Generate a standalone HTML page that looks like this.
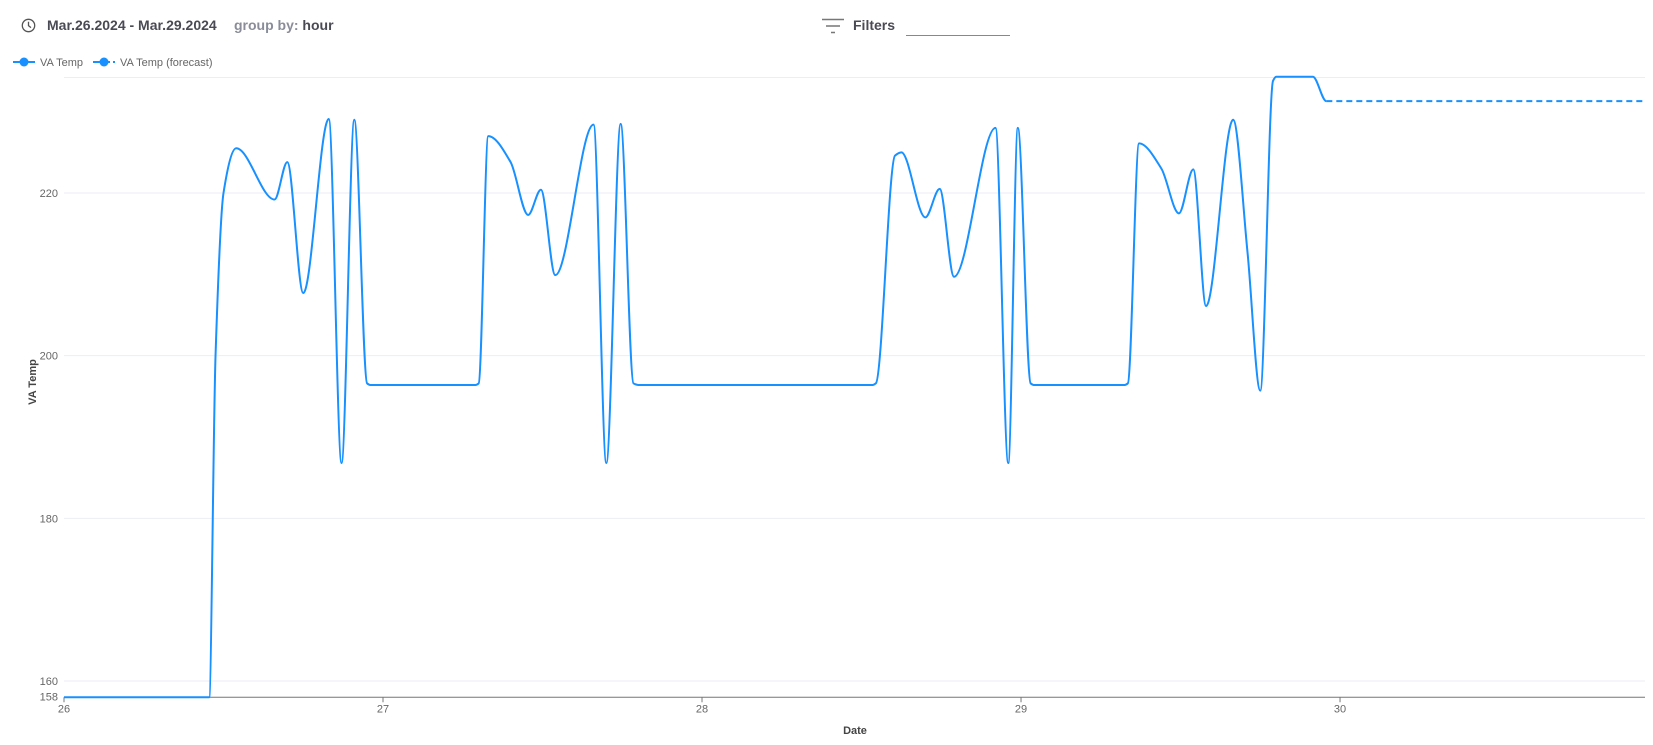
<!DOCTYPE html>
<html><head><meta charset="utf-8"><style>
body{margin:0;width:1653px;height:745px;background:#fff;font-family:"Liberation Sans",sans-serif;overflow:hidden;position:relative}
.hdr{position:absolute;top:17px;font-size:14px;font-weight:bold;color:#4a4a55}
</style></head><body>
<svg style="position:absolute;left:21px;top:18px" width="15" height="15" viewBox="0 0 15 15"><circle cx="7.5" cy="7.5" r="6.2" fill="none" stroke="#555" stroke-width="1.3"/><path d="M7.5 3.8V7.7L10 9.6" fill="none" stroke="#555" stroke-width="1.3"/></svg>
<div class="hdr" style="left:47px">Mar.26.2024 - Mar.29.2024</div>
<div class="hdr" style="left:234px"><span style="color:#8a8d99">group by:</span> hour</div>
<svg style="position:absolute;left:821px;top:18px" width="24" height="17"><path d="M1 1.5H23M5 8H19M10 14.5H14" stroke="#777" stroke-width="1.5"/></svg>
<div class="hdr" style="left:853px">Filters</div>
<div style="position:absolute;left:906px;top:35px;width:104px;border-bottom:1px solid #888"></div>
<svg id="chart" width="1653" height="745" style="position:absolute;left:0;top:0" font-family="Liberation Sans, sans-serif"></svg>
<script>
const xTicks=[26,27,28,29,30];
const yTicks=[160,180,200,220];
const days=[26,26.455,26.475,26.50,26.54,26.66,26.70,26.75,26.83,26.87,26.91,26.95,26.96,27.29,27.30,27.33,27.40,27.455,27.495,27.54,27.66,27.70,27.745,27.785,27.80,28.535,28.545,28.605,28.625,28.70,28.745,28.79,28.92,28.96,28.99,29.03,29.04,29.325,29.335,29.37,29.44,29.495,29.54,29.58,29.665,29.71,29.75,29.79,29.80,29.915,29.957];
const temps=[158,158,200,220,225.5,219.2,223.8,207.7,229.1,186.8,229,196.6,196.4,196.4,196.6,227,223.8,217.3,220.4,209.9,228.4,186.8,228.5,196.6,196.4,196.4,196.6,224.6,225,217,220.5,209.7,228,186.8,228,196.6,196.4,196.4,196.6,226.1,223,217.5,222.9,206.1,229,212.7,195.7,233.8,234.3,234.3,231.3];
const fcDays=[29.957,30.956];
const fcTemps=[231.3,231.3];
const X0=26,X1=30.956,PX0=64,PX1=1645;
const Y0=160,Y1=220,PY0=681,PY1=193;
const sx=d=>PX0+(d-X0)/(X1-X0)*(PX1-PX0);
const sy=v=>PY0+(v-Y0)/(Y1-Y0)*(PY1-PY0);
const svg=document.getElementById('chart');
const NS='http://www.w3.org/2000/svg';
function mk(t,a,p){const e=document.createElementNS(NS,t);for(const k in a)e.setAttribute(k,a[k]);(p||svg).appendChild(e);return e;}
const gridVals=yTicks.concat([234.2]);
gridVals.forEach(v=>{const g=mk('line',{x1:PX0,x2:PX1,y1:sy(v),y2:sy(v),stroke:'#eceef4','stroke-width':1});

});
yTicks.concat([158]).forEach(v=>{const t=mk('text',{x:58,y:(v===158?sy(158)+3:sy(v)+4),'text-anchor':'end','font-size':11,fill:'#666'});t.textContent=v;

});
const axY=sy(158);
const ax=mk('line',{x1:PX0,x2:PX1,y1:axY,y2:axY,stroke:'#777','stroke-width':1});


xTicks.forEach(d=>{const l=mk('line',{x1:sx(d),x2:sx(d),y1:axY,y2:axY+5,stroke:'#777'});


const t=mk('text',{x:sx(d),y:axY+15,'text-anchor':'middle','font-size':11,fill:'#666'});t.textContent=d;

});
const yt=mk('text',{x:0,y:0,transform:'translate(36,382) rotate(-90)','text-anchor':'middle','font-size':11,'font-weight':'bold',fill:'#444'});yt.textContent='VA Temp';


const xt=mk('text',{x:855,y:734,'text-anchor':'middle','font-size':11,'font-weight':'bold',fill:'#444'});xt.textContent='Date';


function monoPath(xs,ys){const n=xs.length,px=xs.map(sx),py=ys.map(sy);const d=[],h=[],m=[];
for(let i=0;i<n-1;i++){h.push(px[i+1]-px[i]);d.push((py[i+1]-py[i])/h[i]);}
for(let i=0;i<n;i++){
 if(i===0||i===n-1){m.push(0);continue;}
 const d0=d[i-1],d1=d[i];
 if(d0*d1<=0){m.push(0);continue;}
 const w1=2*h[i]+h[i-1],w2=h[i]+2*h[i-1];
 m.push((w1+w2)/(w1/d0+w2/d1));}
let s='M'+px[0]+','+py[0];
for(let i=0;i<n-1;i++){const k=h[i]/3;s+=' C'+(px[i]+k)+','+(py[i]+m[i]*k)+' '+(px[i+1]-k)+','+(py[i+1]-m[i+1]*k)+' '+px[i+1]+','+py[i+1];}
return s;}
const line=mk('path',{d:monoPath(days,temps),fill:'none',stroke:'#1890ff','stroke-width':2});


const fc=mk('path',{d:'M'+sx(fcDays[0])+','+sy(fcTemps[0])+' L'+sx(fcDays[1])+','+sy(fcTemps[1]),fill:'none',stroke:'#1890ff','stroke-width':2,'stroke-dasharray':'6,4'});


const LY=62;
const lg1=mk('g',{});


mk('line',{x1:13,x2:35,y1:LY,y2:LY,stroke:'#1890ff','stroke-width':2},lg1);
mk('circle',{cx:24,cy:LY,r:4.5,fill:'#1890ff'},lg1);
const t1=mk('text',{x:40,y:LY+4,'font-size':11,fill:'#666'},lg1);t1.textContent='VA Temp';
const lg2=mk('g',{});


mk('line',{x1:93,x2:110,y1:LY,y2:LY,stroke:'#1890ff','stroke-width':2},lg2);
mk('line',{x1:113,x2:115,y1:LY,y2:LY,stroke:'#1890ff','stroke-width':2},lg2);
mk('circle',{cx:104,cy:LY,r:4.5,fill:'#1890ff'},lg2);
const t2=mk('text',{x:120,y:LY+4,'font-size':11,fill:'#666'},lg2);t2.textContent='VA Temp (forecast)';
</script>
</body></html>
